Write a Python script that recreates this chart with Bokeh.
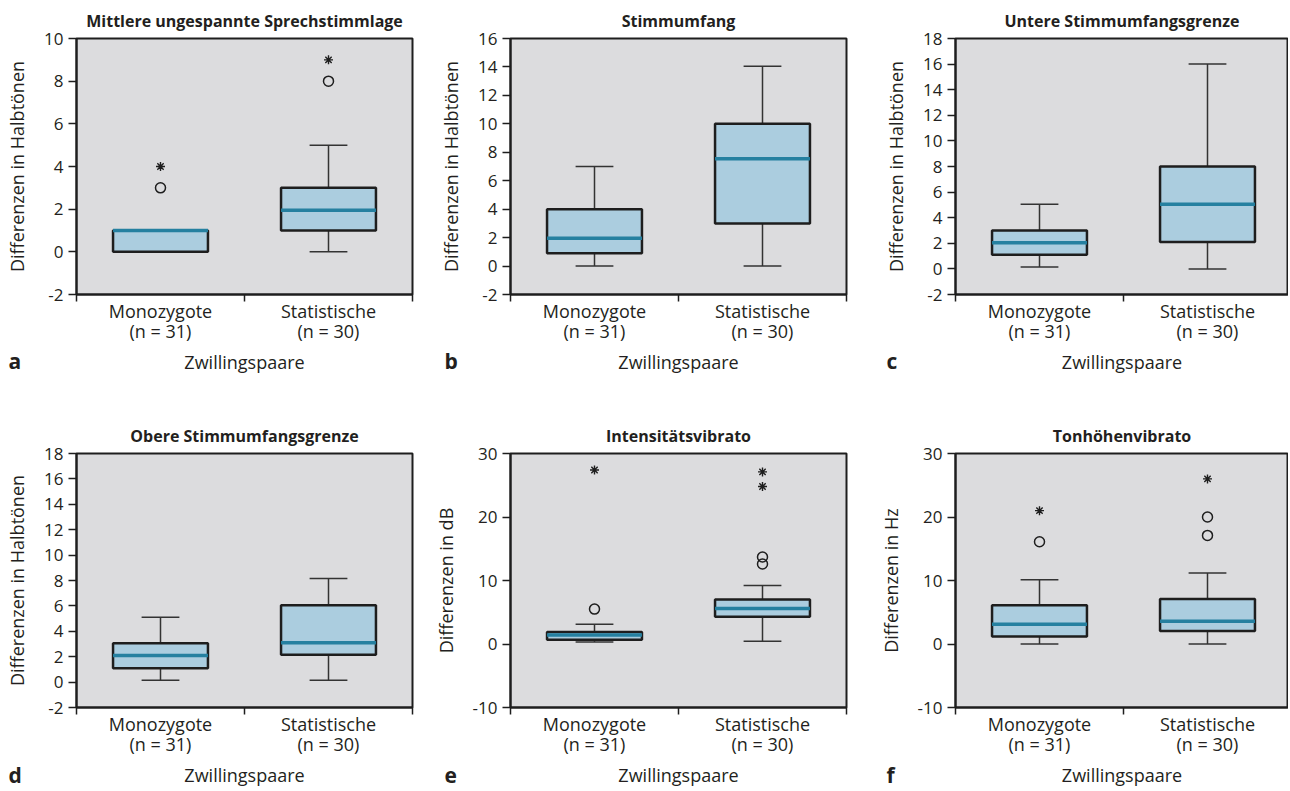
from bokeh.plotting import figure
from bokeh.layouts import column, row
from bokeh.models import ColumnDataSource, FixedTicker, Title
from bokeh.embed import file_html
from bokeh.resources import INLINE

# ---------------- data ----------------
groups = ["Monozygote\n(n = 31)", "Statistische\n(n = 30)"]
group_x = [0.5, 1.5]

titles = ["Mittlere ungespannte Sprechstimmlage", "Stimmumfang", "Untere Stimmumfangsgrenze",
          "Obere Stimmumfangsgrenze", "Intensitätsvibrato", "Tonhöhenvibrato"]
ylabels = ["Differenzen in Halbtönen", "Differenzen in Halbtönen", "Differenzen in Halbtönen",
           "Differenzen in Halbtönen", "Differenzen in dB", "Differenzen in Hz"]
letters = ["a", "b", "c", "d", "e", "f"]
y_ranges = [(-2, 10), (-2, 16), (-2, 18), (-2, 18), (-10, 30), (-10, 30)]
y_steps = [2, 2, 2, 2, 10, 10]

# [Monozygote, Statistische] per panel
lower_whisker = [[0, 0], [0, 0], [0.15, 0], [0.15, 0.15], [0.3, 0.45], [0, 0]]
q1 = [[0, 1], [0.9, 3], [1.1, 2.1], [1.1, 2.15], [0.65, 4.3], [1.2, 2.05]]
median = [[1, 1.95], [1.95, 7.55], [2.05, 5.05], [2.1, 3.1], [1.4, 5.6], [3.1, 3.6]]
q3 = [[1, 3], [4, 10], [3, 8], [3.05, 6.05], [1.9, 7.0], [6.1, 7.1]]
upper_whisker = [[1, 5], [7, 14.05], [5.05, 16], [5.1, 8.15], [3.1, 9.2], [10.1, 11.2]]
outliers_circle = [[[3], [8]], [[], []], [[], []], [[], []], [[5.5], [12.6, 13.7]], [[16.1], [17.1, 20]]]
outliers_star = [[[4], [9]], [[], []], [[], []], [[], []], [[27.4], [24.8, 27.1]], [[21], [26]]]

# ---------------- style ----------------
FONT = "Open Sans"
TXT = "#231f20"
BG = "#dcdcde"
BOX_FILL = "#abcddf"
MED = "#2580a0"
DARK = "#1e1e1e"
BOX_W = 0.565
CAP_W = 0.225

cols = [(430, 76, 18), (430, 80, 14), (428, 95, 0)]
rows_ = [(400, 37, 106), (389, 53, 79)]
letter_offset = [-68, -66, -69, -68, -66, -69]
letter_standoff = [-60, -60, -60, -58, -44, -58]


def make_panel(i):
    ci, ri = i % 3, i // 3
    w, bl, br = cols[ci]
    h, bt, bb = rows_[ri]
    fw = w - bl - br
    x_end = 2.0 * fw / 336.0
    y0, y1 = y_ranges[i]
    p = figure(width=w, height=h, x_range=(0, x_end), y_range=(y0, y1),
               output_backend="svg", toolbar_location=None,
               min_border_left=bl, min_border_right=br, min_border_top=bt, min_border_bottom=bb)
    p.background_fill_color = BG
    p.border_fill_color = "white"
    p.outline_line_color = DARK
    p.outline_line_width = 2
    p.outline_line_alpha = 1
    p.xgrid.visible = False
    p.ygrid.visible = False

    p.title.text = titles[i]
    p.title.align = "center"
    p.title.text_font = FONT
    p.title.text_font_size = "16px"
    p.title.text_font_style = "bold"
    p.title.text_color = TXT
    p.title.standoff = 14

    ya = p.yaxis[0]
    yt = list(range(y0, y1 + 1, y_steps[i]))
    ya.ticker = FixedTicker(ticks=yt)
    ya.major_label_overrides = {t: str(t) for t in yt if t < 0}
    ya.axis_label = ylabels[i]
    ya.axis_label_text_font = FONT
    ya.axis_label_text_font_size = "18px"
    ya.axis_label_text_font_style = "normal"
    ya.axis_label_text_color = TXT
    ya.axis_label_standoff = 12
    ya.major_label_text_font = FONT
    ya.major_label_text_font_size = "17px"
    ya.major_label_text_color = TXT
    ya.major_label_standoff = 5
    ya.major_tick_out = 8
    ya.major_tick_in = 0
    ya.major_tick_line_color = DARK
    ya.major_tick_line_width = 1.5
    ya.minor_tick_line_color = None
    ya.axis_line_color = DARK
    ya.axis_line_width = 2

    xa = p.xaxis[0]
    xa.ticker = FixedTicker(ticks=group_x, minor_ticks=[0, 1, 2])
    xa.major_label_overrides = {group_x[0]: groups[0], group_x[1]: groups[1]}
    xa.major_label_text_font = FONT
    xa.major_label_text_font_size = "18px"
    xa.major_label_text_color = TXT
    xa.major_label_standoff = -3
    xa.major_label_text_line_height = 0.85
    xa.major_tick_line_color = None
    xa.major_tick_out = 0
    xa.major_tick_in = 0
    xa.minor_tick_out = 7
    xa.minor_tick_in = 0
    xa.minor_tick_line_color = DARK
    xa.minor_tick_line_width = 1.5
    xa.axis_line_color = DARK
    xa.axis_line_width = 2
    xa.axis_label = "Zwillingspaare"
    xa.axis_label_text_font = FONT
    xa.axis_label_text_font_size = "18px"
    xa.axis_label_text_font_style = "normal"
    xa.axis_label_text_color = TXT
    xa.axis_label_standoff = 4

    src = ColumnDataSource(dict(
        x=group_x, lw=lower_whisker[i], q1=q1[i], med=median[i], q3=q3[i], uw=upper_whisker[i],
        xl=[gx - BOX_W / 2 for gx in group_x], xr=[gx + BOX_W / 2 for gx in group_x],
        cl=[gx - CAP_W / 2 for gx in group_x], cr=[gx + CAP_W / 2 for gx in group_x],
    ))
    p.segment(x0="x", y0="q3", x1="x", y1="uw", source=src, line_color="#333333", line_width=1.5)
    p.segment(x0="x", y0="q1", x1="x", y1="lw", source=src, line_color="#333333", line_width=1.5)
    p.segment(x0="cl", y0="uw", x1="cr", y1="uw", source=src, line_color="#333333", line_width=1.5)
    p.segment(x0="cl", y0="lw", x1="cr", y1="lw", source=src, line_color="#333333", line_width=1.5)
    p.vbar(x="x", width=BOX_W, top="q3", bottom="q1", source=src,
           fill_color=BOX_FILL, line_color=DARK, line_width=2.5)
    p.segment(x0="xl", y0="med", x1="xr", y1="med", source=src, line_color=MED, line_width=3.5)

    cx, cy, sx, sy = [], [], [], []
    for g in range(2):
        for v in outliers_circle[i][g]:
            cx.append(group_x[g]); cy.append(v)
        for v in outliers_star[i][g]:
            sx.append(group_x[g]); sy.append(v)
    if cx:
        p.scatter(cx, cy, marker="circle", size=10, fill_color=None, line_color=DARK, line_width=1.5)
    if sx:
        p.scatter(sx, sy, marker="asterisk", size=9, line_color=DARK, line_width=1.4)

    # panel letter as a left-aligned title below the x axis, pulled up to the axis-label line
    p.add_layout(Title(text=letters[i], align="left", offset=letter_offset[i],
                       standoff=letter_standoff[i], vertical_align="top", text_font=FONT,
                       text_font_size="21px", text_font_style="bold", text_color=TXT), "below")
    return p


panels = [make_panel(i) for i in range(6)]
layout = column(row(*panels[:3]), row(*panels[3:]))

with open("out.html", "w") as f:
    f.write(file_html(layout, INLINE))
